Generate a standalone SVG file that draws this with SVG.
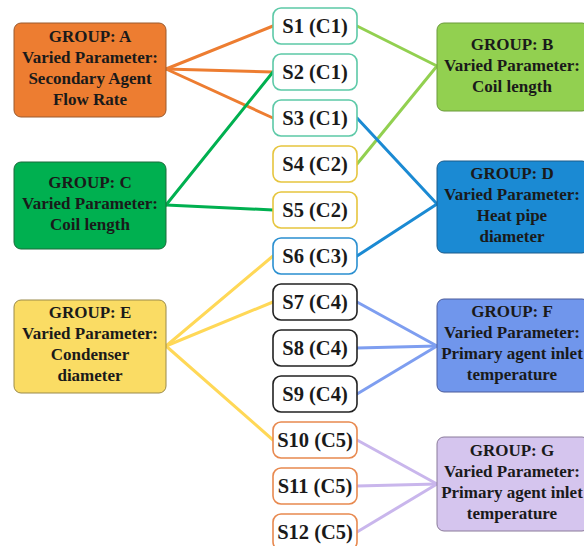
<svg xmlns="http://www.w3.org/2000/svg" width="584" height="546" viewBox="0 0 584 546">
<style>
  .grp rect { stroke-width: 1; }
  text { font-family: 'Liberation Serif', 'Times New Roman', Times, 'DejaVu Serif', serif; font-weight: bold; fill: #1a1a1a; text-anchor: middle; }
  .gt { font-size: 17px; }
  .st { font-size: 20.5px; }
  .node rect { fill: #ffffff; stroke-width: 1.6; }
  .c1 rect { stroke: #5CC9A7; }
  .c2 rect { stroke: #E6C53E; }
  .c3 rect { stroke: #2A8FD0; }
  .c4 rect { stroke: #222222; }
  .c5 rect { stroke: #E8894F; }
  #connectors line { stroke-width: 3; stroke-linecap: round; fill: none; }
  .lA { stroke: #ED7D31; }
  .lC { stroke: #00B050; }
  .lB { stroke: #92D050; }
  .lD { stroke: #1B8AD3; }
  .lE { stroke: #FFD857; }
  .lF { stroke: #7E9EF0; }
  .lG { stroke: #C9B6EC; }
</style>
<rect x="0" y="0" width="584" height="546" fill="#ffffff"/>

<g id="connectors">
  <line class="lA" x1="166" y1="69" x2="273" y2="26"/>
  <line class="lA" x1="166" y1="69" x2="273" y2="72"/>
  <line class="lA" x1="166" y1="69" x2="273" y2="118"/>
  <line class="lC" x1="166" y1="205" x2="273" y2="72"/>
  <line class="lC" x1="166" y1="205" x2="273" y2="210"/>
  <line class="lB" x1="357" y1="26" x2="437" y2="66"/>
  <line class="lB" x1="357" y1="164" x2="437" y2="66"/>
  <line class="lD" x1="357" y1="118" x2="437" y2="204"/>
  <line class="lD" x1="357" y1="256" x2="437" y2="204"/>
  <line class="lE" x1="166" y1="346" x2="273" y2="256"/>
  <line class="lE" x1="166" y1="346" x2="273" y2="302"/>
  <line class="lE" x1="166" y1="346" x2="273" y2="440"/>
  <line class="lF" x1="357" y1="302" x2="437" y2="346"/>
  <line class="lF" x1="357" y1="348" x2="437" y2="346"/>
  <line class="lF" x1="357" y1="394" x2="437" y2="346"/>
  <line class="lG" x1="357" y1="440" x2="437" y2="484"/>
  <line class="lG" x1="357" y1="486" x2="437" y2="484"/>
  <line class="lG" x1="357" y1="532" x2="437" y2="484"/>
</g>

<g id="groupA" class="grp">
  <rect x="14" y="23" width="152" height="94" rx="7" fill="#ED7D31" stroke="#9a5a2e"/>
  <text class="gt" x="90" y="41.5">GROUP: A</text>
  <text class="gt" x="90" y="62.5">Varied Parameter:</text>
  <text class="gt" x="90" y="83.5">Secondary Agent</text>
  <text class="gt" x="90" y="104.5">Flow Rate</text>
</g>
<g id="groupC" class="grp">
  <rect x="14" y="162" width="152" height="87" rx="7" fill="#00B050" stroke="#1a6a3a"/>
  <text class="gt" x="90" y="188">GROUP: C</text>
  <text class="gt" x="90" y="209">Varied Parameter:</text>
  <text class="gt" x="90" y="230">Coil length</text>
</g>
<g id="groupE" class="grp">
  <rect x="14" y="300" width="152" height="93" rx="7" fill="#FADC64" stroke="#9a8a4a"/>
  <text class="gt" x="90" y="318">GROUP: E</text>
  <text class="gt" x="90" y="339">Varied Parameter:</text>
  <text class="gt" x="90" y="360">Condenser</text>
  <text class="gt" x="90" y="381">diameter</text>
</g>
<g id="groupB" class="grp">
  <rect x="437" y="23" width="152" height="88" rx="7" fill="#92D050" stroke="#6a9a3a"/>
  <text class="gt" x="512" y="49.5">GROUP: B</text>
  <text class="gt" x="512" y="70.5">Varied Parameter:</text>
  <text class="gt" x="512" y="91.5">Coil length</text>
</g>
<g id="groupD" class="grp">
  <rect x="437" y="161" width="152" height="92" rx="7" fill="#1B8AD3" stroke="#1a5a8a"/>
  <text class="gt" x="512" y="178.5">GROUP: D</text>
  <text class="gt" x="512" y="199.5">Varied Parameter:</text>
  <text class="gt" x="512" y="220.5">Heat pipe</text>
  <text class="gt" x="512" y="241.5">diameter</text>
</g>
<g id="groupF" class="grp">
  <rect x="437" y="299" width="152" height="93" rx="7" fill="#7096EC" stroke="#4a5a9a"/>
  <text class="gt" x="512" y="317">GROUP: F</text>
  <text class="gt" x="512" y="338">Varied Parameter:</text>
  <text class="gt" x="512" y="359">Primary agent inlet</text>
  <text class="gt" x="512" y="380">temperature</text>
</g>
<g id="groupG" class="grp">
  <rect x="437" y="437" width="152" height="94" rx="7" fill="#D5C5EE" stroke="#8a7a9a"/>
  <text class="gt" x="512" y="456">GROUP: G</text>
  <text class="gt" x="512" y="477">Varied Parameter:</text>
  <text class="gt" x="512" y="498">Primary agent inlet</text>
  <text class="gt" x="512" y="519">temperature</text>
</g>

<g id="S1" class="node c1"><rect x="273" y="8" width="84" height="36" rx="8"/><text class="st" x="315" y="33">S1 (C1)</text></g>
<g id="S2" class="node c1"><rect x="273" y="54" width="84" height="36" rx="8"/><text class="st" x="315" y="79">S2 (C1)</text></g>
<g id="S3" class="node c1"><rect x="273" y="100" width="84" height="36" rx="8"/><text class="st" x="315" y="125">S3 (C1)</text></g>
<g id="S4" class="node c2"><rect x="273" y="146" width="84" height="36" rx="8"/><text class="st" x="315" y="171">S4 (C2)</text></g>
<g id="S5" class="node c2"><rect x="273" y="192" width="84" height="36" rx="8"/><text class="st" x="315" y="217">S5 (C2)</text></g>
<g id="S6" class="node c3"><rect x="273" y="238" width="84" height="36" rx="8"/><text class="st" x="315" y="263">S6 (C3)</text></g>
<g id="S7" class="node c4"><rect x="273" y="284" width="84" height="36" rx="8"/><text class="st" x="315" y="309">S7 (C4)</text></g>
<g id="S8" class="node c4"><rect x="273" y="330" width="84" height="36" rx="8"/><text class="st" x="315" y="355">S8 (C4)</text></g>
<g id="S9" class="node c4"><rect x="273" y="376" width="84" height="36" rx="8"/><text class="st" x="315" y="401">S9 (C4)</text></g>
<g id="S10" class="node c5"><rect x="273" y="422" width="84" height="36" rx="8"/><text class="st" x="315" y="447">S10 (C5)</text></g>
<g id="S11" class="node c5"><rect x="273" y="468" width="84" height="36" rx="8"/><text class="st" x="315" y="493">S11 (C5)</text></g>
<g id="S12" class="node c5"><rect x="273" y="514" width="84" height="36" rx="8"/><text class="st" x="315" y="539">S12 (C5)</text></g>
</svg>
